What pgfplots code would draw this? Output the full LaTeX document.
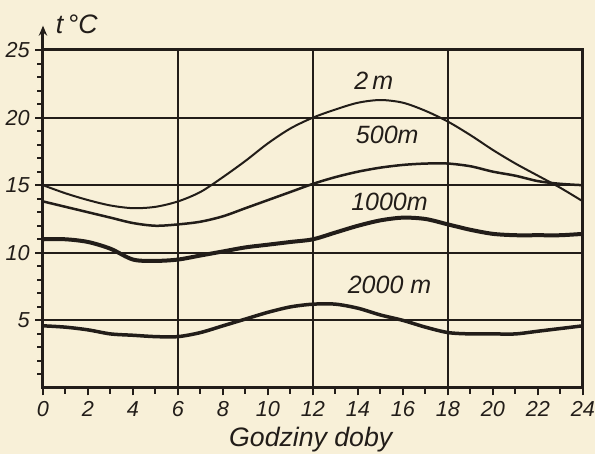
\documentclass[border=0pt]{standalone}
\usepackage{fontspec}
\setmainfont{Liberation Sans}
\usepackage{pgfplots}
\pgfplotsset{compat=1.18}
\usetikzlibrary{arrows.meta}
\definecolor{paper}{HTML}{F8F0D8}
\definecolor{ink}{HTML}{221D19}

\pgfplotstableread{
h t2 t500 t1000 t2000
0 15.0 13.8 11.0 4.6
1 14.4 13.4 11.0 4.5
2 13.9 13.0 10.8 4.3
3 13.5 12.6 10.3 4.0
4 13.3 12.2 9.5 3.9
5 13.4 12.0 9.4 3.8
6 13.8 12.1 9.5 3.8
7 14.5 12.3 9.8 4.1
8 15.6 12.7 10.1 4.6
9 16.8 13.3 10.4 5.1
10 18.1 13.9 10.6 5.6
11 19.2 14.5 10.8 6.0
12 20.0 15.1 11.0 6.2
13 20.6 15.6 11.5 6.2
14 21.1 16.0 12.0 5.9
15 21.3 16.3 12.4 5.4
16 21.1 16.5 12.6 5.0
17 20.5 16.6 12.5 4.5
18 19.7 16.6 12.1 4.1
19 18.7 16.4 11.7 4.0
20 17.6 16.0 11.4 4.0
21 16.6 15.7 11.3 4.0
22 15.7 15.3 11.3 4.2
23 14.8 15.1 11.3 4.4
24 13.8 15.0 11.4 4.6
}\datatable

\begin{document}
\begin{tikzpicture}
\fill[paper] (-25.8pt,-39.6pt) rectangle (331.2pt,232.8pt);
\begin{axis}[
  scale only axis, width=324pt, height=202.8pt,
  xmin=0, xmax=24, ymin=0, ymax=25,
  axis line style={ink, line width=1.8pt},
  xtick={0,2,...,24}, minor xtick={1,3,...,23},
  ytick={5,10,...,25}, minor ytick={1,...,24},
  tick align=outside, major tick length=4.5pt, minor tick length=3.5pt,
  tick style={ink, line width=1.2pt},
  xtick pos=left, ytick pos=left,
  ymajorgrids, grid style={ink, line width=1.3pt},
  extra x ticks={6,12,18}, extra x tick labels={},
  extra x tick style={grid=major, major tick length=0pt},
  ticklabel style={font=\itshape\fontsize{13}{13}\selectfont, text=ink},
  /pgf/number format/assume math mode=true,
  clip=false,
]
\addplot[ink, line width=1.2pt, smooth, tension=0.5] table[x=h, y=t2] {\datatable};
\addplot[ink, line width=1.5pt, smooth, tension=0.5] table[x=h, y=t500] {\datatable};
\addplot[ink, line width=2.4pt, smooth, tension=0.5] table[x=h, y=t1000] {\datatable};
\addplot[ink, line width=2.1pt, smooth, tension=0.5] table[x=h, y=t2000] {\datatable};

\draw[ink, line width=1.8pt, -{Stealth[length=6pt,width=5pt]}] (axis cs:0,25) -- (axis cs:0,26.8);

\node[text=ink, font=\itshape\fontsize{15}{15}\selectfont] at (axis cs:14.7,22.7) {2\,m};
\node[text=ink, font=\itshape\fontsize{15}{15}\selectfont] at (axis cs:15.3,18.7) {500m};
\node[text=ink, font=\itshape\fontsize{15}{15}\selectfont] at (axis cs:15.4,13.8) {1000m};
\node[text=ink, font=\itshape\fontsize{15}{15}\selectfont] at (axis cs:15.4,7.6) {2000 m};
\node[text=ink, font=\itshape\fontsize{16}{16}\selectfont] at (axis cs:1.5,26.9) {t\,°C};
\node[text=ink, font=\itshape\fontsize{16}{16}\selectfont] at (axis cs:11.9,-3.85) {Godziny doby};
\end{axis}
\pgfresetboundingbox
\path (-25.8pt,-39.6pt) rectangle (331.2pt,232.8pt);
\end{tikzpicture}
\end{document}
